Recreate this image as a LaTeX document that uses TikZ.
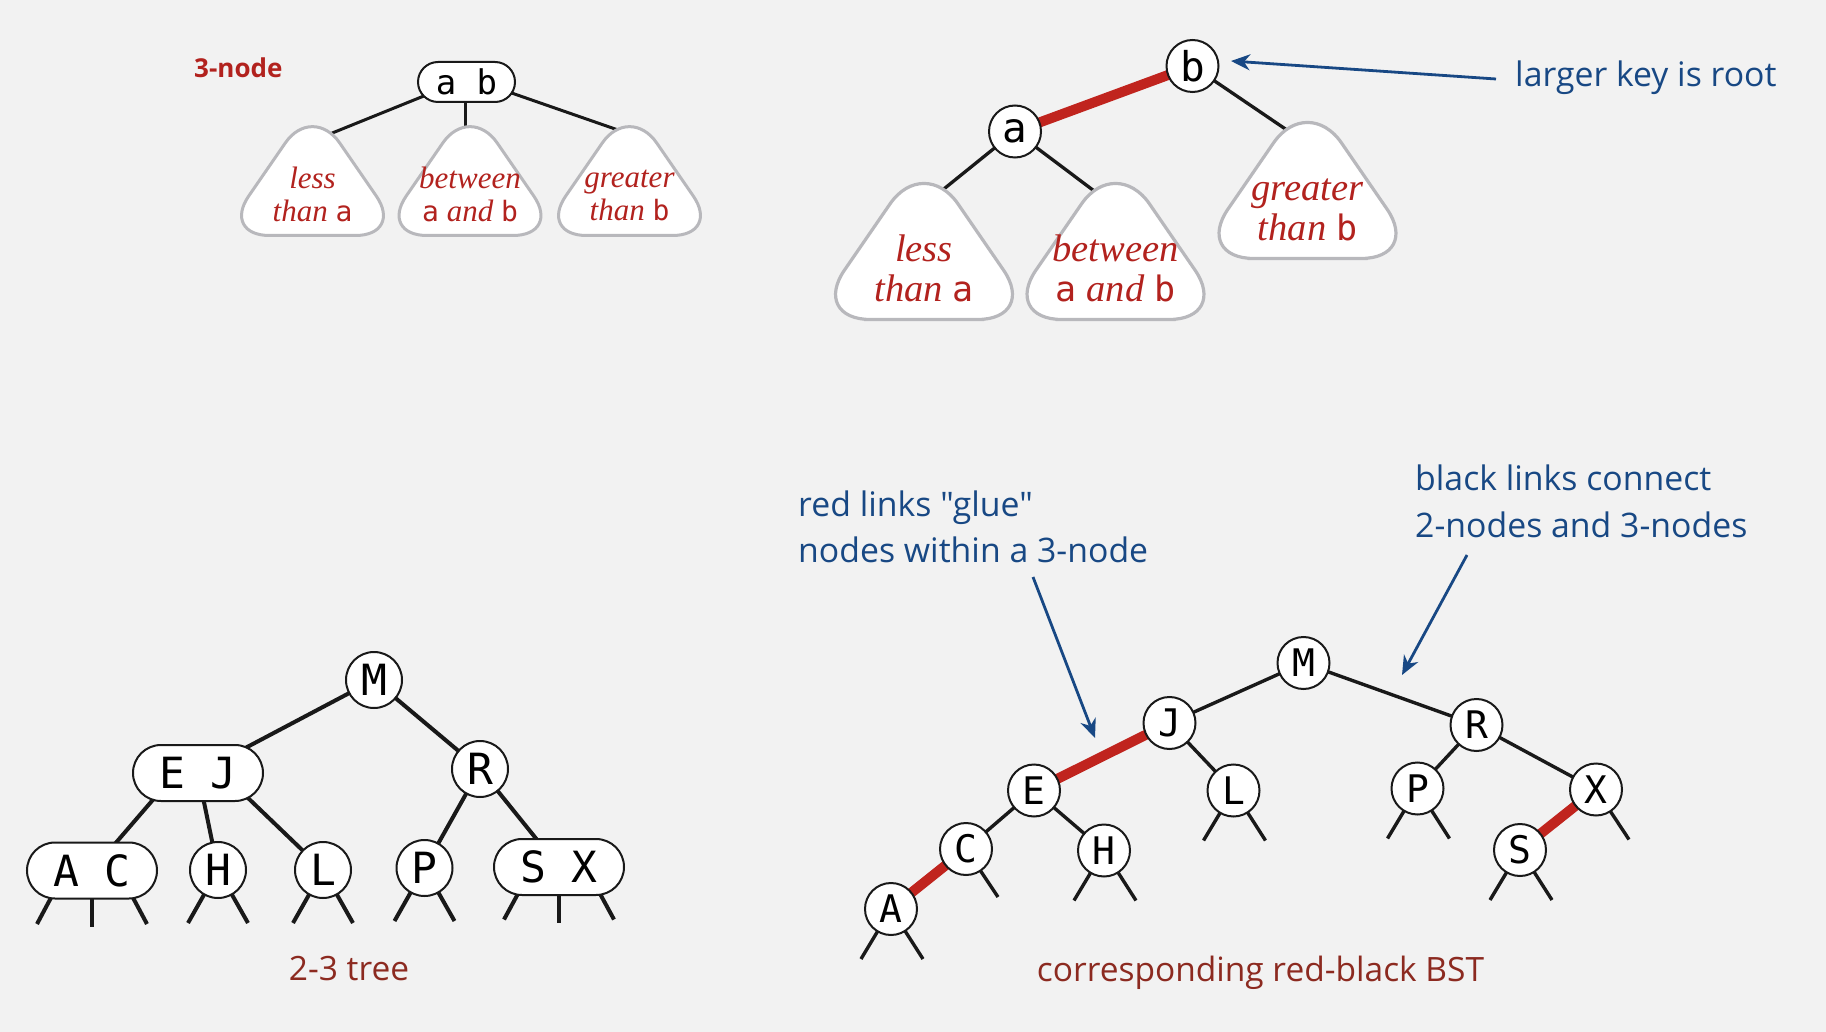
\documentclass[tikz,border=0pt]{standalone}
\usepackage{fontspec}
\setmainfont{Liberation Serif}
\newfontfamily\labfont{Open Sans}
\newfontfamily\keyfont{DejaVu Sans Mono}
\usetikzlibrary{arrows.meta,calc}
\definecolor{bgc}{RGB}{242,242,242}
\definecolor{redlink}{RGB}{192,36,30}
\definecolor{redtext}{RGB}{178,34,30}
\definecolor{darkred}{RGB}{140,42,32}
\definecolor{bluec}{RGB}{24,72,132}
\definecolor{grayline}{RGB}{184,184,188}
\definecolor{ink}{RGB}{25,25,25}
\pgfdeclarelayer{back}
\pgfdeclarelayer{edges}
\pgfsetlayers{back,edges,main}
\newcommand\fs[1]{\fontsize{#1}{#1}\selectfont}
\newcommand\ks[1]{{\upshape\keyfont\fs{28}#1}}
\newcommand\kb[1]{{\upshape\keyfont\fs{35}#1}}
\begin{document}
\begin{tikzpicture}[x=1pt,y=-1pt,
  tkey/.style={circle,draw=ink,line width=2pt,fill=white,inner sep=0pt,minimum size=56pt,font=\keyfont\fs{43}},
  tpair/.style={rectangle,rounded corners=28pt,draw=ink,line width=2pt,fill=white,inner sep=0pt,minimum width=130pt,minimum height=56pt,font=\keyfont\fs{43}},
  rkey/.style={circle,draw=ink,line width=2pt,fill=white,inner sep=0pt,minimum size=52pt,font=\keyfont\fs{38}},
  topkey/.style={circle,draw=ink,line width=2pt,fill=white,inner sep=0pt,minimum size=52pt,font=\keyfont\fs{41}},
  smallpair/.style={rectangle,rounded corners=20pt,draw=ink,line width=2pt,fill=white,inner sep=0pt,minimum width=97pt,minimum height=40pt,font=\keyfont\fs{34}},
  tlink/.style={line width=4pt,ink},
  rlink/.style={line width=3.4pt,ink},
  toplink/.style={line width=3pt,ink},
  redl/.style={line width=10pt,redlink},
  callout/.style={bluec,line width=2.8pt,-{Stealth[length=19pt,width=16pt,inset=6pt]}},
  lab/.style={font=\labfont\fs{33.8},text=bluec,inner sep=0pt,anchor=base west},
  caption/.style={font=\labfont\fs{33.5},text=darkred,inner sep=0pt,anchor=base},
  subbig/.style={draw=grayline,line width=3.2pt,fill=white,rounded corners=60pt},
  subsmall/.style={draw=grayline,line width=3pt,fill=white,rounded corners=48pt},
  tbig/.style={font=\itshape\fs{38.5},text=redtext,inner sep=0pt,anchor=base},
  tsmall/.style={font=\itshape\fs{31},text=redtext,inner sep=0pt,anchor=base}
]
\begin{pgfonlayer}{back}
\fill[bgc] (0,0) rectangle (1826,1032);
\end{pgfonlayer}
\useasboundingbox (0,0) rectangle (1826,1032);

% ---------- top left: 3-node ----------
\node[font=\labfont\bfseries\fs{26},text=redtext,inner sep=0pt,anchor=base west] (lab3) at (194,78) {3-node};
\node[smallpair] (ab) at (466.5,82) {a b};
\foreach \cx in {312.5,470,629.5}{
  \draw[subsmall] (\cx,235.5) -- ++(91,0) -- ++(-91,-132) -- ++(-91,132) -- cycle;
}
\coordinate (sA) at (312.5,141);
\coordinate (sB) at (470,141);
\coordinate (sC) at (629.5,134);
\node[tsmall] (sA1) at (312.5,189) {less};
\node[tsmall] (sA2) at (312.5,222) {than \ks{a}};
\node[tsmall] (sB1) at (470,189) {between};
\node[tsmall] (sB2) at (470,222) {\ks{a} and \ks{b}};
\node[tsmall] (sC1) at (629.5,188) {greater};
\node[tsmall] (sC2) at (629.5,221) {than \ks{b}};
\begin{pgfonlayer}{edges}
\draw[toplink] ($(ab.center)+(-8,0)$) -- (sA);
\draw[toplink] ($(ab.center)+(-1.5,0)$) -- (sB -| {$(ab.center)+(-1.5,0)$});
\draw[toplink] ($(ab.center)+(13.5,0)$) -- (sC);
\end{pgfonlayer}

% ---------- top right: red-black version ----------
\node[topkey] (nb) at (1192.5,66) {b};
\node[topkey] (na) at (1015,131.5) {a};
\draw[subbig] (924,319.5) -- ++(113.5,0) -- ++(-113.5,-165) -- ++(-113.5,165) -- cycle;
\draw[subbig] (1115.5,319.5) -- ++(113.5,0) -- ++(-113.5,-165) -- ++(-113.5,165) -- cycle;
\draw[subbig] (1307.5,258.5) -- ++(113.5,0) -- ++(-113.5,-165) -- ++(-113.5,165) -- cycle;
\coordinate (bA) at (924,205);
\coordinate (bB) at (1115.5,207);
\coordinate (bC) at (1307.5,144);
\node[tbig] (bA1) at (924,262) {less};
\node[tbig] (bA2) at (924,302) {than \kb{a}};
\node[tbig] (bB1) at (1115.5,262) {between};
\node[tbig] (bB2) at (1115.5,302) {\kb{a} and \kb{b}};
\node[tbig] (bC1) at (1307.5,201) {greater};
\node[tbig] (bC2) at (1307.5,241) {than \kb{b}};
\begin{pgfonlayer}{edges}
\draw[redl] (na.center) -- (nb.center);
\draw[toplink,line width=3.3pt] (na.center) -- (bA);
\draw[toplink,line width=3.3pt] (na.center) -- (bB);
\draw[toplink,line width=3.3pt] (nb.center) -- (bC);
\end{pgfonlayer}
\node[lab] (l1) at (1515,87) {larger key is root};
\coordinate (t1) at (1496,79);
\coordinate (h1) at (1231,61);
\draw[callout] (t1) -- (h1);

% ---------- bottom left: 2-3 tree ----------
\node[tkey] (M) at (374,680) {M};
\node[tpair] (EJ) at (198,773) {E J};
\node[tkey] (R) at (480,769) {R};
\node[tpair] (AC) at (92,870.5) {A C};
\node[tkey] (H) at (218,870) {H};
\node[tkey] (L) at (323,870) {L};
\node[tkey] (P) at (424.5,868) {P};
\node[tpair] (SX) at (559,867) {S X};
\begin{pgfonlayer}{edges}
\draw[tlink] (M.center) -- (EJ.center);
\draw[tlink] (M.center) -- (R.center);
\draw[tlink] ($(EJ.center)+(-22,0)$) -- (AC.center);
\draw[tlink] (EJ.center) -- (H.center);
\draw[tlink] ($(EJ.center)+(24,0)$) -- (L.center);
\draw[tlink] (R.center) -- (P.center);
\draw[tlink] (R.center) -- (SX.center);
% stubs
\draw[tlink] ($(AC.center)+(-26.5,0)$) -- ++(-28.5,53.5);
\draw[tlink] (AC.center) -- ++(0,56.5);
\draw[tlink] ($(AC.center)+(26.5,0)$) -- ++(28.5,53.5);
\foreach \n in {H,L,P}{
  \draw[tlink] (\n.center) -- ++(-30,53);
  \draw[tlink] (\n.center) -- ++(30,53);
}
\draw[tlink] ($(SX.center)+(-26.5,0)$) -- ++(-28.5,52.5);
\draw[tlink] (SX.center) -- ++(0,55.5);
\draw[tlink] ($(SX.center)+(26.5,0)$) -- ++(28.5,52.5);
\end{pgfonlayer}
\node[caption] (cap1) at (349,980) {2-3 tree};

% ---------- bottom right: red-black BST ----------
\node[rkey] (rM) at (1303.5,663) {M};
\node[rkey] (rJ) at (1169.5,723) {J};
\node[rkey] (rR) at (1476.5,725) {R};
\node[rkey] (rE) at (1034,790.5) {E};
\node[rkey] (rL) at (1233.5,790.5) {L};
\node[rkey] (rP) at (1417.5,788.5) {P};
\node[rkey] (rX) at (1596,789.5) {X};
\node[rkey] (rC) at (966,849) {C};
\node[rkey] (rH) at (1104,850.5) {H};
\node[rkey] (rS) at (1520,850) {S};
\node[rkey] (rA) at (891,909) {A};
\begin{pgfonlayer}{edges}
\draw[rlink] (rM.center) -- (rJ.center);
\draw[rlink] (rM.center) -- (rR.center);
\draw[rlink] (rJ.center) -- (rL.center);
\draw[rlink] (rE.center) -- (rC.center);
\draw[rlink] (rE.center) -- (rH.center);
\draw[rlink] (rR.center) -- (rP.center);
\draw[rlink] (rR.center) -- (rX.center);
\draw[redl] (rJ.center) -- (rE.center);
\draw[redl] (rC.center) -- (rA.center);
\draw[redl] (rX.center) -- (rS.center);
\foreach \n in {rA,rH,rL,rP,rS}{
  \draw[rlink] (\n.center) -- ++(-30,50);
  \draw[rlink] (\n.center) -- ++(32,50);
}
\draw[rlink] (rC.center) -- ++(32,48);
\draw[rlink] (rX.center) -- ++(33,50);
\end{pgfonlayer}
\node[caption] (cap2) at (1260.5,981) {corresponding red-black BST};

% ---------- callouts ----------
\node[lab] (l2a) at (798,516) {red links "glue"};
\node[lab] (l2b) at (798,562) {nodes within a 3-node};
\coordinate (t2) at (1033,577);
\coordinate (h2) at (1095,738);
\draw[callout] (t2) -- (h2);
\node[lab] (l3a) at (1415,490) {black links connect};
\node[lab] (l3b) at (1415,537) {2-nodes and 3-nodes};
\coordinate (t3) at (1467,555);
\coordinate (h3) at (1402,675);
\draw[callout] (t3) -- (h3);
\end{tikzpicture}
\end{document}
